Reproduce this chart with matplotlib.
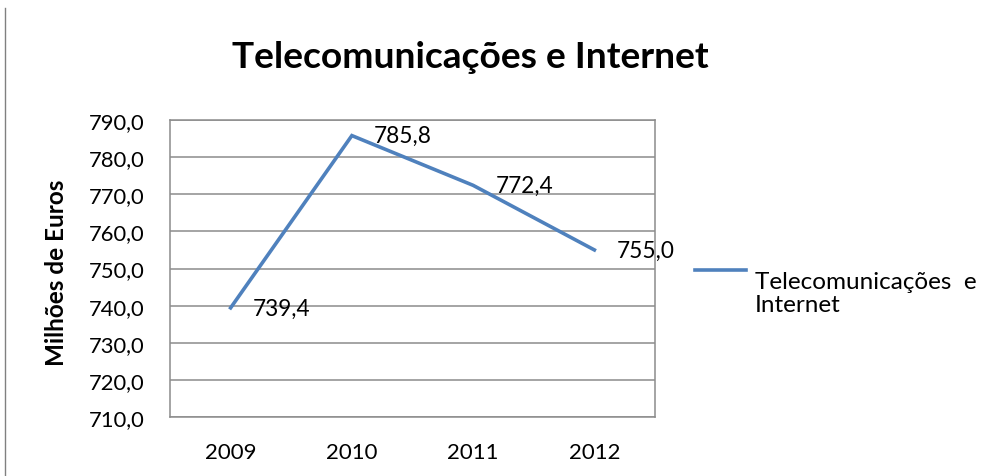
import matplotlib.pyplot as plt
from matplotlib.lines import Line2D

# Data
years = ['2009', '2010', '2011', '2012']
values = [739.4, 785.8, 772.4, 755.0]
series_name = 'Telecomunicações  e\nInternet'
yticks = [710, 720, 730, 740, 750, 760, 770, 780, 790]

blue = '#4F81BD'
grid_grey = '#8C8C8C'

plt.rcParams['font.family'] = ['Lato', 'DejaVu Sans']

fig = plt.figure(figsize=(9.87, 4.77), dpi=100)
ax = fig.add_axes([170 / 987, 1 - 418 / 477, 485 / 987, 297 / 477])

x = list(range(len(years)))
ax.plot(x, values, color=blue, linewidth=2.6, solid_joinstyle='miter')

# data labels, right of each point
for xi, v in zip(x, values):
    ax.annotate(f'{v:.1f}'.replace('.', ','), (xi, v), xytext=(16, 0),
                textcoords='offset points', va='center', ha='left', fontsize=16.3)

ax.set_xlim(-0.5, len(years) - 0.5)
ax.set_ylim(710, 790)
ax.set_yticks(yticks)
ax.set_yticklabels([f'{t:.1f}'.replace('.', ',') for t in yticks], fontsize=15.8)
ax.set_xticks(x)
ax.set_xticklabels(years, fontsize=16)
ax.tick_params(axis='both', length=0)
ax.tick_params(axis='y', pad=18.5)
ax.tick_params(axis='x', pad=18)
ax.grid(axis='y', color=grid_grey, linewidth=1.1)
ax.set_axisbelow(True)
for s in ax.spines.values():
    s.set_color(grid_grey)
    s.set_linewidth(1.1)

ax.set_ylabel('Milhões de Euros', fontsize=17.5, fontweight='bold')
ax.yaxis.set_label_coords((68 - 170) / 485, 0.49)

fig.text(470 / 987, 1 - 58 / 477, 'Telecomunicações e Internet', ha='center', va='center',
         fontsize=26.7, fontweight='bold')

# legend drawn by hand
fig.add_artist(Line2D([695 / 987, 746 / 987], [1 - 271 / 477, 1 - 271 / 477],
                      color=blue, linewidth=2.6))
fig.text(755 / 987, 1 - 294 / 477, series_name, ha='left', va='center', fontsize=17.5,
         linespacing=1.1)

# page border line on the left
fig.add_artist(Line2D([5 / 987, 5 / 987], [0, 1 - 9 / 477], color='#808080', linewidth=1))

fig.savefig('out.png', dpi=100)
